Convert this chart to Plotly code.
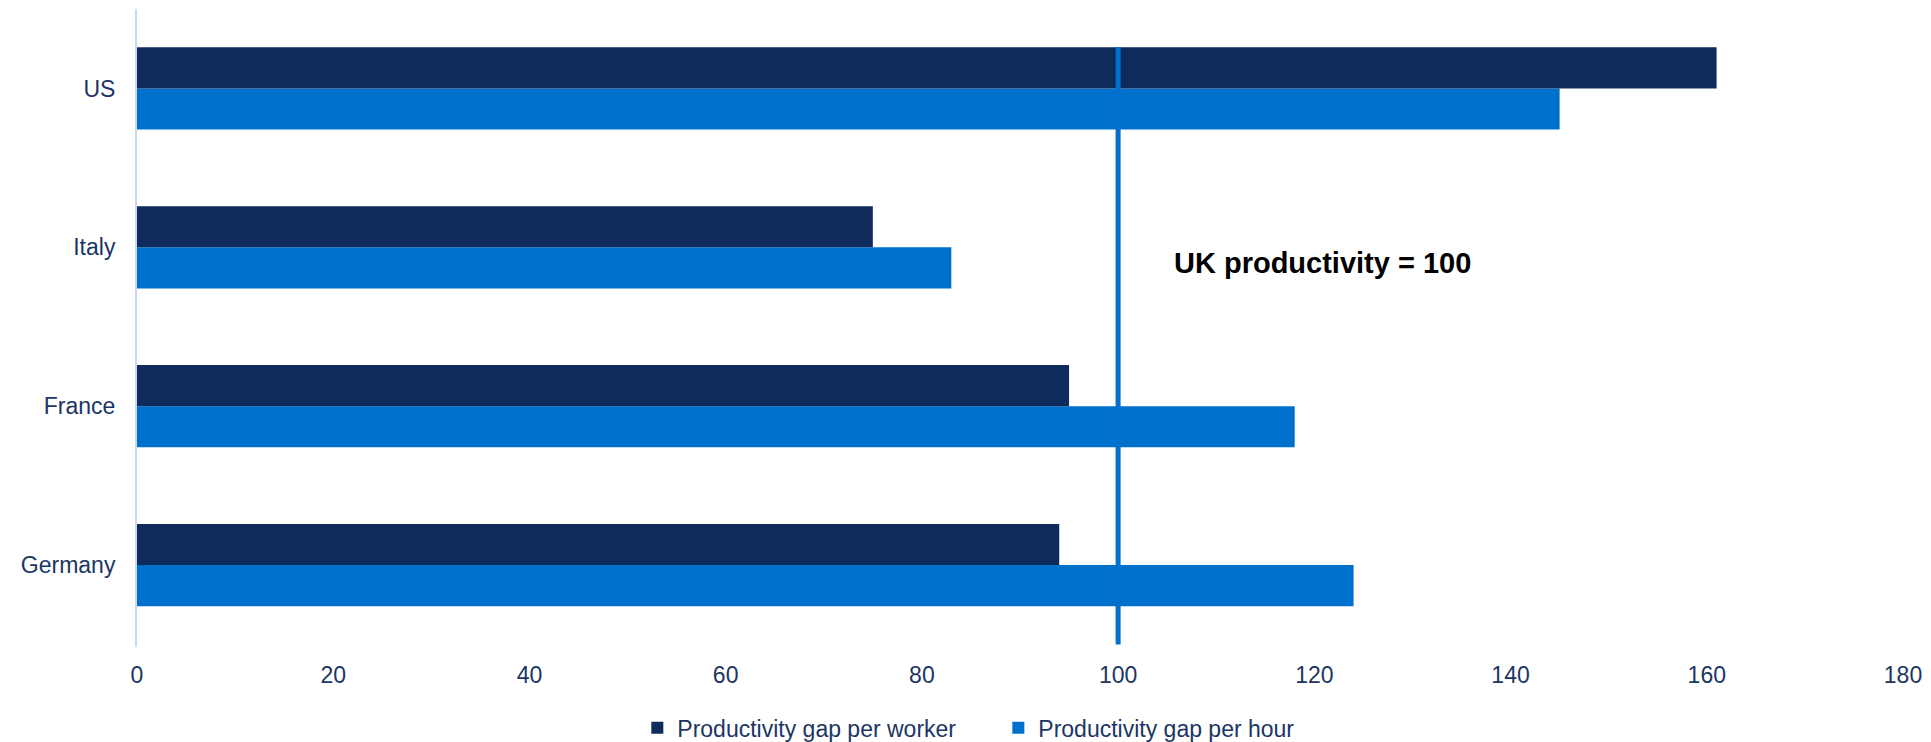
import plotly.graph_objects as go

countries = ["Germany", "France", "Italy", "US"]
per_worker = [94, 95, 75, 161]
per_hour = [124, 118, 83, 145]
x_ticks = [0, 20, 40, 60, 80, 100, 120, 140, 160, 180]
uk_level = 100
annotation_text = "UK productivity = 100"

dark = "#0E2B5C"
light = "#0070CD"
text_col = "#1B3664"
bargap = 0.483

fig = go.Figure()
fig.add_trace(go.Bar(y=countries, x=per_hour, orientation="h", name="Productivity gap per hour",
                     marker=dict(color=light, line=dict(width=0)), legendrank=2))
fig.add_trace(go.Bar(y=countries, x=per_worker, orientation="h", name="Productivity gap per worker",
                     marker=dict(color=dark, line=dict(width=0)), legendrank=1))

fig.add_shape(type="line", xref="x", yref="y", x0=uk_level, x1=uk_level,
              y0=-0.5, y1=3 + (1 - bargap) / 2,
              line=dict(color="#0070CD", width=5), layer="above")

fig.add_annotation(x=(1172 - 137) / (1903 - 137) * 180, y=1.9, xref="x", yref="y",
                   text=annotation_text, showarrow=False, xanchor="left",
                   font=dict(family="Liberation Sans, Arial", size=29, color="#000000", weight="bold"))

fig.update_layout(
    width=1931, height=742,
    margin=dict(l=137, r=28, t=9, b=95),
    barmode="group", bargap=bargap, bargroupgap=0,
    plot_bgcolor="white", paper_bgcolor="white",
    font=dict(family="Liberation Sans, Arial", size=23, color=text_col),
    xaxis=dict(range=[0, 180], tickvals=x_ticks, showgrid=False, zeroline=False,
               showline=False, ticks="", ticklabelstandoff=12,
               tickfont=dict(size=23, color=text_col)),
    yaxis=dict(showgrid=False, zeroline=False, showline=True, linecolor="#C6D9F1", linewidth=2,
               ticks="", ticklabelstandoff=15, tickfont=dict(size=23, color=text_col)),
    legend=dict(orientation="h", xref="container", yref="container", x=0.517, xanchor="center",
                y=0.019, yanchor="middle", entrywidth=316, entrywidthmode="pixels",
                font=dict(size=23, color=text_col), itemclick=False),
    showlegend=True,
)

fig.write_html("out.html", config={"displayModeBar": False},
               post_script="document.body.style.margin='0';document.body.style.overflow='hidden';")
